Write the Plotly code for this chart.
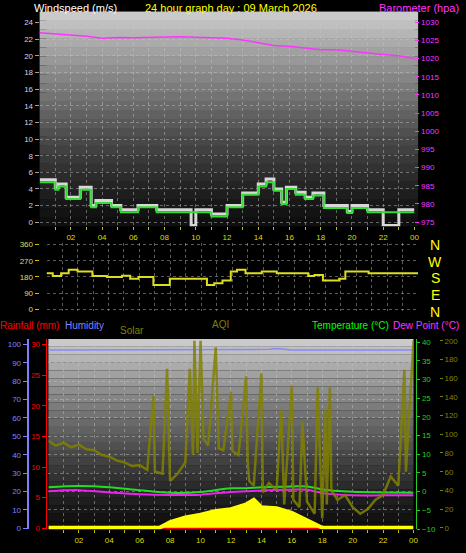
import plotly.graph_objects as go

# ---- wind speed (m/s), step data ----
wind_t = [0, 1.0, 1.2, 1.7, 2.6, 3.3, 3.6, 4.6, 5.2, 6.3, 7.5, 9.7, 10.0, 11.0, 12.0, 13.0, 14.0,
          14.5, 15.0, 15.5, 15.8, 16.4, 17.0, 17.5, 18.2, 19.7, 20.0, 21.0, 22.0, 23.0, 24.0]
gust = [5.1, 4.2, 4.6, 3.0, 4.2, 2.0, 2.6, 2.0, 1.5, 2.0, 1.5, -0.4, 1.5, 1.0, 2.0, 3.5, 4.6,
        5.2, 4.0, 2.4, 4.2, 3.6, 3.0, 3.5, 2.0, 1.3, 2.0, 1.5, -0.4, 1.5, 1.5]
avg_wind = [4.8, 3.9, 4.3, 2.8, 3.9, 1.8, 2.3, 1.8, 1.2, 1.8, 1.2, 1.2, 1.2, 0.7, 1.8, 3.3, 4.3,
            4.8, 3.8, 2.2, 4.0, 3.3, 2.8, 3.2, 1.7, 1.1, 1.7, 1.2, 1.2, 1.2, 1.2]

# ---- barometer (hPa) ----
baro_t = list(range(25))
baro = [1027.1, 1026.8, 1026.6, 1026.1, 1025.6, 1025.8, 1025.7, 1025.7, 1025.9, 1026.0, 1025.9,
        1025.9, 1025.6, 1025.1, 1024.3, 1023.6, 1023.4, 1022.8, 1022.4, 1022.4, 1021.9, 1021.5,
        1021.1, 1020.8, 1020.0]

# ---- wind direction (deg) ----
dir_t = [0, 0.4, 0.94, 1.43, 2.0, 2.96, 3.9, 4.87, 5.4, 5.94, 6.9, 7.96, 10.36, 10.83, 11.36,
         11.9, 12.3, 12.85, 13.9, 14.87, 16.9, 17.3, 17.85, 18.9, 19.3, 20.8, 24.0]
wind_dir = [200, 185, 200, 220, 210, 185, 180, 187, 170, 180, 135, 170, 135, 145, 160,
            210, 220, 200, 210, 200, 185, 190, 160, 170, 210, 200, 200]

# ---- bottom panel ----
hum_t = [0, 12, 14.5, 15, 15.5, 16, 24]
humidity = [97, 97, 97.3, 97.8, 97.6, 97, 97]
temp_t = [0, 2, 4, 6, 8, 10, 12, 13, 14, 16, 17, 18, 20, 22, 24]
temperature = [1.2, 1.5, 1.2, 0.4, -0.3, -0.1, 0.9, 0.9, 1.2, 1.4, 1.4, 0.6, 0.0, -0.2, -0.3]
dewpoint = [0.1, 0.4, -0.2, -0.7, -0.9, -0.8, -0.1, 0.1, 0.3, 0.5, 0.5, -0.4, -1.0, -1.0, -1.0]
rain_t = [0, 24]
rainfall = [0, 0]
solar_t = [0, 7.3, 8, 9, 10, 11, 12, 12.5, 13, 13.5, 14, 15, 16, 17, 17.5, 18, 24]
solar = [0, 0, 6, 11, 14, 18, 20, 22, 25, 30, 22, 21, 16, 8, 4, 0, 0]
aqi_t = [0, 0.5, 1, 1.5, 2, 2.5, 3, 3.5, 4, 4.5, 5, 5.5, 6, 6.5, 6.9, 7, 7.5, 7.8, 8, 8.5, 9, 9.3,
         9.5, 9.6, 9.8, 10.0, 10.2, 10.5, 11.0, 11.2, 11.5, 12.0, 12.1, 12.5, 13.0, 13.1, 13.2,
         13.5, 14.0, 14.1, 14.5, 15.0, 15.3, 15.5, 16.0, 16.1, 16.5, 16.7, 17.0, 17.5, 17.7,
         18.0, 18.2, 18.3, 18.5, 18.6, 19.0, 19.5, 20.0, 20.5, 21.0, 21.5, 22.0, 22.5, 23.0,
         23.4, 23.5, 24.0]
aqi = [93, 88, 91, 86, 89, 84, 83, 78, 76, 72, 70, 66, 67, 62, 141, 60, 58, 170, 50, 58, 70, 170,
       78, 200, 80, 200, 95, 88, 193, 85, 83, 145, 82, 78, 162, 72, 50, 45, 165, 38, 48, 40,
       127, 25, 152, 30, 22, 113, 28, 15, 150, 10, 127, 25, 150, 40, 30, 35, 22, 15, 20, 30,
       35, 55, 45, 169, 60, 200]

hours = list(range(1, 25))
hour_txt = ["%02d" % (h % 24) if h % 2 == 0 else "" for h in hours]

FONT = "Liberation Sans"
GRID = "rgba(200,200,200,0.45)"

fig = go.Figure()

# panel 1
fig.add_trace(go.Scatter(x=wind_t, y=gust, mode="lines", line=dict(color="#d8d8d8", width=3, shape="hv"),
                         xaxis="x", yaxis="y"))
fig.add_trace(go.Scatter(x=wind_t, y=avg_wind, mode="lines", line=dict(color="#33dd33", width=2, shape="hv"),
                         xaxis="x", yaxis="y"))
fig.add_trace(go.Scatter(x=baro_t, y=baro, mode="lines", line=dict(color="#ff33ff", width=1.5),
                         xaxis="x", yaxis="y2"))
# panel 2
fig.add_trace(go.Scatter(x=dir_t, y=wind_dir, mode="lines", line=dict(color="#dddd22", width=2, shape="hv"),
                         xaxis="x2", yaxis="y3"))
# panel 3
fig.add_trace(go.Scatter(x=solar_t, y=solar, mode="lines", fill="tozeroy", fillcolor="#ffff00",
                         line=dict(color="#ffff00", width=4), xaxis="x3", yaxis="y7"))
fig.add_trace(go.Scatter(x=hum_t, y=humidity, mode="lines", line=dict(color="#8888ff", width=1.5),
                         xaxis="x3", yaxis="y4"))
fig.add_trace(go.Scatter(x=temp_t, y=temperature, mode="lines", line=dict(color="#22dd22", width=2, shape="spline"),
                         xaxis="x3", yaxis="y6"))
fig.add_trace(go.Scatter(x=temp_t, y=dewpoint, mode="lines", line=dict(color="#ee22ee", width=2, shape="spline"),
                         xaxis="x3", yaxis="y6"))
fig.add_trace(go.Scatter(x=rain_t, y=rainfall, mode="lines", line=dict(color="#ff0000", width=3),
                         xaxis="x3", yaxis="y5"))
fig.add_trace(go.Scatter(x=aqi_t, y=aqi, mode="lines", line=dict(color="rgba(128,128,0,0.85)", width=2.5),
                         xaxis="x3", yaxis="y7"))

# gradient backgrounds
shapes = []
for ax in ["", "2", "3"]:
    n = 24
    for i in range(n):
        g = int(190 * ((i + 1) / n) ** 1.3) + 12
        shapes.append(dict(type="rect", xref="x%s domain" % ax, yref="y%s domain" % (ax if ax != "3" else "4"),
                           x0=0, x1=1, y0=i / n, y1=(i + 1) / n, layer="below", line_width=0,
                           fillcolor="rgb(%d,%d,%d)" % (g, g, g)))

xcommon = dict(range=[0, 24], tickvals=hours, ticktext=hour_txt, showgrid=True, gridcolor=GRID,
               griddash="dot", zeroline=False, ticks="outside", ticklen=3, tickcolor="#c0c000",
               tickfont=dict(family=FONT, size=8, color="#dddd00"))

fig.update_layout(
    width=466, height=553, margin=dict(l=0, r=0, t=0, b=0),
    paper_bgcolor="black", plot_bgcolor="rgba(0,0,0,0)", showlegend=False, shapes=shapes,
    xaxis=dict(domain=[0.086, 0.899], anchor="y", **xcommon),
    xaxis2=dict(domain=[0.101, 0.907], anchor="y3", **{**xcommon, "showticklabels": False, "ticks": ""}),
    xaxis3=dict(domain=[0.105, 0.897], anchor="y4", **xcommon),
    yaxis=dict(domain=[0.5895, 0.982], range=[-0.47, 25.3], dtick=2, tick0=0, showgrid=True, gridcolor=GRID,
               griddash="dot", zeroline=False, ticks="outside", ticklen=4, tickcolor="#a0a0a0",
               tickfont=dict(family=FONT, size=8, color="#d0d0e0")),
    yaxis2=dict(overlaying="y", side="right", anchor="x", range=[973.9, 1032.85], dtick=5, tick0=975,
                showgrid=False, zeroline=False, ticks="outside", ticklen=4, tickcolor="#ff33ff",
                tickfont=dict(family=FONT, size=8, color="#ff33ff")),
    yaxis3=dict(domain=[0.434, 0.559], range=[-10, 370], tickvals=[0, 90, 180, 270, 360], showgrid=True,
                gridcolor=GRID, griddash="dot", zeroline=False, ticks="outside", ticklen=4, tickcolor="#c0c000",
                tickfont=dict(family=FONT, size=8, color="#dddd66")),
    yaxis4=dict(domain=[0.0344, 0.383], anchor="free", position=0.06, range=[-0.5, 103], dtick=10,
                showline=True, linecolor="#8080ff", linewidth=2, showgrid=True, gridcolor=GRID, griddash="dot",
                zeroline=False, ticks="outside", ticklen=4, tickcolor="#8080ff",
                tickfont=dict(family=FONT, size=8, color="#8080ff")),
    yaxis5=dict(overlaying="y4", anchor="free", position=0.099, range=[-0.15, 30.9], dtick=5,
                showline=True, linecolor="#ff0000", linewidth=1, showgrid=False, zeroline=False,
                ticks="outside", ticklen=4, tickcolor="#ff0000", tickfont=dict(family=FONT, size=8, color="#ff0000")),
    yaxis6=dict(overlaying="y4", anchor="free", side="right", position=0.903, range=[-10.05, 40.85], dtick=5,
                showline=True, linecolor="#22cc22", showgrid=False, zeroline=False, ticks="outside", ticklen=3,
                tickcolor="#22cc22", tickfont=dict(family=FONT, size=8, color="#22cc22")),
    yaxis7=dict(overlaying="y4", anchor="free", side="right", position=0.952, range=[-1.5, 202], dtick=20,
                showgrid=False, zeroline=False, ticks="outside", ticklen=3, tickcolor="#808000",
                tickfont=dict(family=FONT, size=8, color="#808000")),
)

def label(text, x, y, color, xanchor="left", size=11):
    fig.add_annotation(text=text, x=x, y=y, xref="paper", yref="paper", xanchor=xanchor, yanchor="middle",
                       showarrow=False, font=dict(family=FONT, size=size, color=color))

label("Windspeed (m/s)", 32 / 466, 1 - 6 / 553, "white")
label("24 hour graph day : 09 March 2026", 0.5, 1 - 6 / 553, "#ffff00", "center")
label("Barometer (hpa)", 466 / 466, 1 - 6 / 553, "#ff33ff", "right")
for i, c in enumerate(["N", "W", "S", "E", "N"]):
    label(c, 440 / 466, 1 - (246 + i * 17) / 553, "#ffff00", "center", 14)
label("Rainfall (mm)", -0.004, 1 - 328 / 553, "#ff0000", size=10)
label("Humidity", 64 / 466, 1 - 328 / 553, "#8080ff", size=10)
label("Solar", 119 / 466, 1 - 333 / 553, "#808000", size=10)
label("AQI", 212 / 466, 1 - 327 / 553, "#808000", size=10)
label("Temperature (\u00b0C)", 313 / 466, 1 - 328 / 553, "#00ff00", size=10)
label("Dew Point (\u00b0C)", 466 / 466, 1 - 328 / 553, "#ff33ff", "right", size=10)

fig.write_html("out.html", config={"displayModeBar": False},
               post_script="document.body.style.margin='0';document.body.style.background='black';")
